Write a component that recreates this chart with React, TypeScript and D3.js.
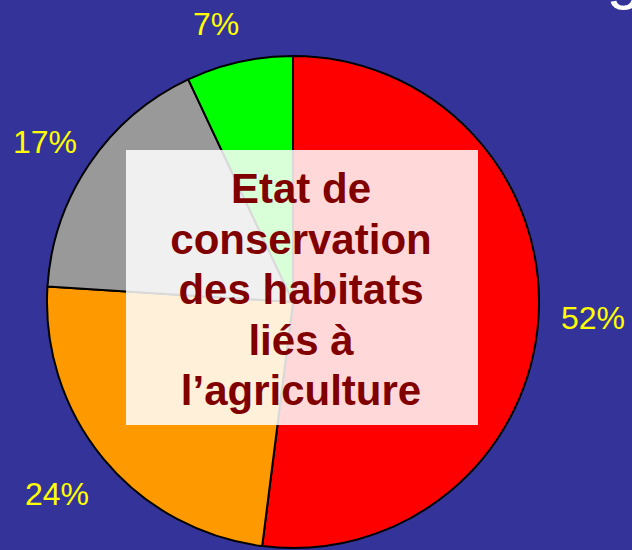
import React from "react";
import * as d3 from "d3";

const categories = ["Défavorable mauvais", "Défavorable inadéquat", "Inconnu", "Favorable"];
const values = [52, 24, 17, 7];
const colors = ["#FF0000", "#FF9900", "#999999", "#00FF00"];
const labels = ["52%", "24%", "17%", "7%"];
const titleLines = ["Etat de", "conservation", "des habitats", "liés à", "l\u2019agriculture"];

const W = 632, H = 550;
const cx = 293, cy = 302, R = 246;

// label positions (centre of text)
const labelPos: [number, number][] = [[593, 318], [57, 494], [45, 142], [216, 24]];

export default function App() {
  const pie = d3.pie<number>().sort(null).value((d) => d)(values);
  const arc = d3.arc<d3.PieArcDatum<number>>().innerRadius(0).outerRadius(R);
  return (
    <svg width={W} height={H} style={{ position: "absolute", left: 0, top: 0, display: "block" }}>
      <rect x={0} y={0} width={W} height={H} fill="#333399" />
      <text x={410} y={-3} fill="#ffffff" fontFamily="Liberation Sans, Arial, sans-serif" fontSize={64} textLength={232}>Catég</text>
      <g transform={`translate(${cx},${cy})`}>
        {pie.map((p, i) => (
          <path key={categories[i]} d={arc(p) || ""} fill={colors[i]} stroke="#000" strokeWidth={2} strokeLinejoin="round" />
        ))}
      </g>
      {labels.map((l, i) => (
        <text key={l} x={labelPos[i][0]} y={labelPos[i][1]} fill="#FFFF00" fontFamily="Liberation Sans, Arial, sans-serif" fontSize={32} textAnchor="middle" dominantBaseline="central">{l}</text>
      ))}
      <rect x={126} y={150} width={352} height={275} fill="#ffffff" fillOpacity={0.85} />
      {titleLines.map((t, i) => (
        <text key={t} x={301} y={203 + i * 50.5} fill="#800000" fontFamily="Liberation Sans, Arial, sans-serif" fontWeight="bold" fontSize={42} textAnchor="middle">{t}</text>
      ))}
    </svg>
  );
}
